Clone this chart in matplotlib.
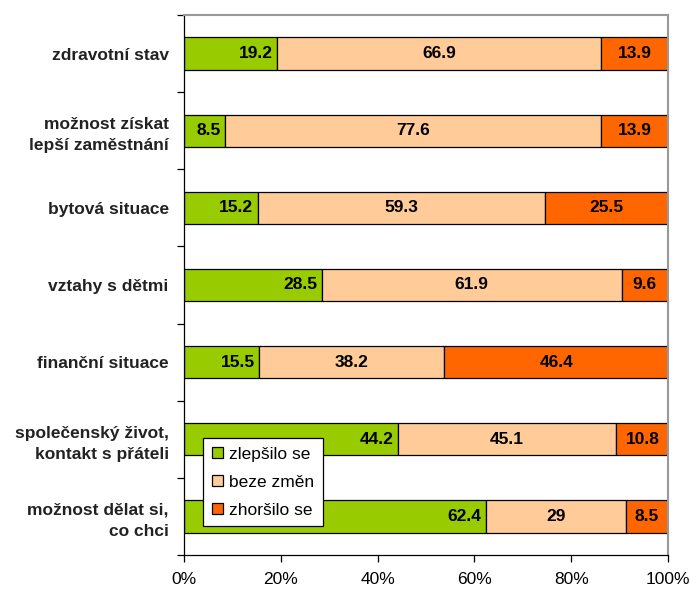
import numpy as np
import matplotlib.pyplot as plt
from matplotlib.ticker import FixedLocator, PercentFormatter

plt.rcParams['font.family'] = ['Liberation Sans', 'DejaVu Sans']

categories = ['zdravotní stav', 'možnost získat\nlepší zaměstnání', 'bytová situace',
              'vztahy s dětmi', 'finanční situace', 'společenský život,\nkontakt s přáteli',
              'možnost dělat si,\nco chci']
zlepsilo = [19.2, 8.5, 15.2, 28.5, 15.5, 44.2, 62.4]
beze = [66.9, 77.6, 59.3, 61.9, 38.2, 45.1, 29]
zhorsilo = [13.9, 13.9, 25.5, 9.6, 46.4, 10.8, 8.5]
series_names = ['zlepšilo se', 'beze změn', 'zhoršilo se']
colors = ['#99CC00', '#FFCC99', '#FF6600']

fig = plt.figure(figsize=(6.91, 5.90), dpi=100)
ax = fig.add_axes([0.2663, 0.0593, 0.7004, 0.9153])

y = np.arange(len(categories))
left = np.zeros(len(categories))
for vals, name, col in zip([zlepsilo, beze, zhorsilo], series_names, colors):
    ax.barh(y, vals, left=left, height=0.42, color=col, edgecolor='black',
            linewidth=0.9, label=name)
    left = left + np.array(vals)

# popisky hodnot
fs = 12.5
for i in range(len(categories)):
    ax.text(zlepsilo[i] - 0.9, y[i], f'{zlepsilo[i]:g}', ha='right', va='center',
            fontsize=fs, fontweight='bold')
    ax.text(zlepsilo[i] + beze[i] / 2, y[i], f'{beze[i]:g}', ha='center', va='center',
            fontsize=fs, fontweight='bold')
    ax.text(zlepsilo[i] + beze[i] + zhorsilo[i] / 2, y[i], f'{zhorsilo[i]:g}',
            ha='center', va='center', fontsize=fs, fontweight='bold')

ax.set_xlim(0, 100)
ax.set_ylim(len(categories) - 0.5, -0.5)
ax.xaxis.set_major_locator(FixedLocator([0, 20, 40, 60, 80, 100]))
ax.xaxis.set_major_formatter(PercentFormatter(decimals=0))
ax.set_yticks(y)
ax.set_yticklabels(categories, fontsize=fs, fontweight='bold', color='#222222',
                   linespacing=1.5)
ax.tick_params(axis='y', length=0, pad=11)
ax.yaxis.set_minor_locator(FixedLocator(np.arange(-0.5, len(categories) + 0.5, 1)))
ax.tick_params(axis='y', which='minor', length=5, width=0.9)
ax.tick_params(axis='x', length=5, width=0.9, labelsize=12.5, pad=7)

for s in ['top', 'right']:
    ax.spines[s].set_color('#999999')
    ax.spines[s].set_linewidth(1.5)
for s in ['left', 'bottom']:
    ax.spines[s].set_color('black')
    ax.spines[s].set_linewidth(0.9)

leg = ax.legend(loc='upper left', bbox_to_anchor=(203 / 691, 1 - 438 / 590),
                bbox_transform=fig.transFigure, fontsize=12.5, frameon=True,
                fancybox=False, edgecolor='black', framealpha=1,
                handlelength=0.65, handleheight=0.65, handletextpad=0.35,
                labelspacing=0.75, borderpad=0.5, borderaxespad=0)
leg.get_frame().set_linewidth(0.9)

fig.savefig('out.png', dpi=100)
